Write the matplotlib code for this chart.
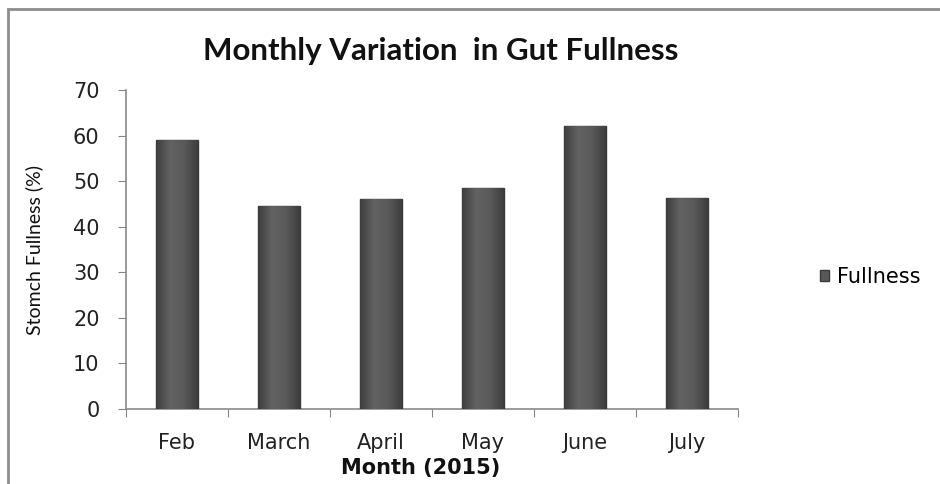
import numpy as np
import matplotlib.pyplot as plt
from matplotlib.patches import Rectangle
from matplotlib.colors import LinearSegmentedColormap

# --- Data ---
months = ['Feb', 'March', 'April', 'May', 'June', 'July']
fullness = [59, 44.6, 46, 48.5, 62, 46.3]
yticks = [0, 10, 20, 30, 40, 50, 60, 70]

# --- Figure ---
fig = plt.figure(figsize=(9.4, 4.84), dpi=100)
ax = fig.add_axes([0.134, 0.155, 0.651, 0.659])

x = np.arange(len(months))
bars = ax.bar(x, fullness, width=0.41, color='#585858', edgecolor='#3a3a3a',
              linewidth=1.0, label='Fullness', zorder=3)

# shaded look on the bars (dark sides, lighter middle)
shade = LinearSegmentedColormap.from_list('shade', ['#3e3e3e', '#626262', '#5a5a5a', '#3e3e3e'])
grad = np.linspace(0, 1, 64).reshape(1, -1)
for b in bars:
    im = ax.imshow(grad, cmap=shade, aspect='auto', zorder=3.5,
                   extent=[b.get_x(), b.get_x() + b.get_width(), 0, b.get_height()])
    im.set_clip_path(b)

ax.set_xlim(-0.5, len(months) - 0.5)
ax.set_ylim(0, 70)
ax.set_yticks(yticks)
ax.set_xticks(np.arange(len(months) + 1) - 0.5)
ax.set_xticklabels([])
ax.set_xticks(x, minor=True)
ax.set_xticklabels(months, minor=True)

ax.tick_params(axis='y', which='major', direction='out', length=6, color='#868686', pad=13,
               labelsize=15, labelcolor='#222222', labelfontfamily='DejaVu Sans')
ax.tick_params(axis='x', which='major', direction='out', length=6, color='#868686')
ax.tick_params(axis='x', which='minor', length=0, pad=17,
               labelsize=15, labelcolor='#222222', labelfontfamily='DejaVu Sans')

for side in ['top', 'right']:
    ax.spines[side].set_visible(False)
for side in ['left', 'bottom']:
    ax.spines[side].set_color('#8a8a8a')
    ax.spines[side].set_linewidth(1.2)

fig.text(441 / 940, 1 - 60 / 484, 'Monthly Variation  in Gut Fullness', family='Lato',
         fontweight='bold', fontsize=22.5, color='#111111', ha='center', va='baseline')
ax.set_xlabel('Month (2015)', family='DejaVu Sans', fontweight='bold', fontsize=15,
              color='#111111')
ax.xaxis.set_label_coords(0.482, -0.155)
fig.text(34 / 940, 0.483, 'Stomch Fullness (%)', family='Lato', fontsize=14,
         rotation=90, ha='center', va='center', color='#111111')

leg = ax.legend(loc='center left', bbox_to_anchor=(1.134, 0.414), frameon=False,
                borderaxespad=0, borderpad=0,
                handlelength=0.45, handleheight=0.45, handletextpad=0.35,
                prop={'family': 'DejaVu Sans', 'size': 15})

# outer chart border
fig.patches.append(Rectangle((8 / 940, -0.05), 1.0, 1.05 - 9 / 484, transform=fig.transFigure,
                             fill=False, edgecolor='#8c8c8c', linewidth=2, clip_on=False))

fig.savefig('out.png', dpi=100)
